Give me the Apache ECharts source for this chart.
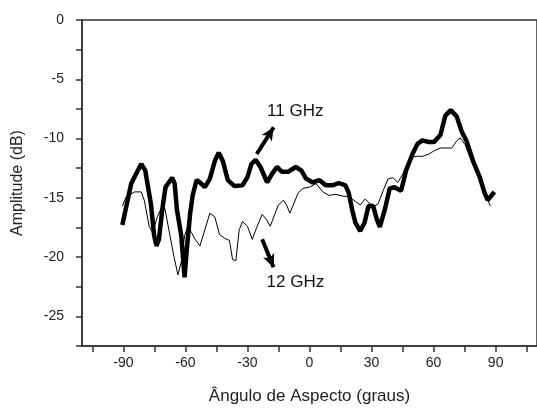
<!DOCTYPE html>
<html>
<head>
<meta charset="utf-8">
<script src="https://cdn.jsdelivr.net/npm/echarts@6/dist/echarts.min.js"></script>
<style>
  html, body { margin: 0; padding: 0; background: #fff; }
  #chart { width: 537px; height: 410px; }
</style>
</head>
<body>
<div id="chart"></div>
<script>
// 11 GHz (thick trace)
const ang11 = [-90.5, -86.2, -81.4, -79.4, -76.7, -75.1, -74, -72.8, -71.2, -69.6, -66.4, -65.2, -64.1, -62, -60.4,
  -59.3, -57.7, -56.5, -54.6, -53, -50.6, -48.2, -45.8, -43.9, -41.9, -39.5, -36.4, -32.4, -30, -28.1, -26.1,
  -23.7, -20.5, -18.2, -15.8, -13.4, -10.3, -6.6, -3.9, -1.6, 1.6, 4.7, 7.9, 11.1, 14.2, 17.4, 19, 20.6, 22.2,
  24.5, 26.6, 28.5, 30.8, 32.5, 34, 36.4, 38.8, 41.1, 44.3, 46.7, 49.8, 52.2, 54.6, 57.8, 60.1, 63.3, 65.7,
  68.3, 71.2, 73.6, 75.9, 79.1, 82.3, 84.7, 86.2, 89.4];
const amp11 = [-17.3, -13.8, -12.15, -12.7, -15.5, -18.2, -19.05, -18.5, -16, -14.1, -13.3, -13.8, -16, -18.2, -21.7,
  -19.3, -16.3, -14.8, -13.5, -13.7, -14.1, -13.4, -11.9, -11.2, -11.9, -13.5, -14, -13.95, -13.25, -12.15, -11.8,
  -12.4, -13.7, -13, -12.4, -12.8, -12.8, -12.4, -12.7, -13.4, -13.7, -13.5, -13.95, -13.95, -13.75, -13.95, -14.6, -16, -17.1,
  -17.8, -17.1, -15.7, -15.7, -16.8, -17.45, -16, -14.2, -14.1, -14.4, -12.7, -11.3, -10.45, -10.15, -10.3, -10.3, -9.7, -8.06,
  -7.6, -8.15, -9.4, -10.2, -11.9, -13.25, -14.6, -15.2, -14.5];

// 12 GHz (thin trace)
const ang12 = [-90.5, -88.6, -84.6, -81.4, -79.9, -77.5, -75.9, -73.6, -72, -69.9, -68, -65.6, -63.6, -62, -60.4,
  -58.8, -57, -55.3, -53, -50.6, -48.2, -45.8, -43.5, -41.1, -38.7, -37.2, -35.6, -34, -32.4, -30, -27.7, -25.3,
  -22.9, -20.9, -19, -16.6, -15, -12.6, -11.1, -9.5, -7.6, -5.5, -3.1, 0, 3.2, 6.4, 9.5, 12.7, 15.9, 19, 22.2,
  24.5, 26.9, 29.3, 31.3, 33.2, 35.6, 38, 40.3, 42.7, 45.1, 47.5, 49.8, 52.2, 54.6, 57.8, 60.1, 63.3, 66.4,
  68.8, 71.2, 72.8, 75.2, 78.3, 81.5, 83.9, 85.4, 87.5];
const amp12 = [-15.7, -14.9, -14.5, -14.5, -15.2, -17.4, -17.95, -16.6, -16, -15.9, -17.7, -19.9, -21.5, -20.4, -18.2,
  -17.4, -17.95, -18.5, -19.05, -17.7, -16.3, -16.6, -18.1, -18.4, -18.6, -20.2, -20.3, -17.7, -17, -17.4, -18.5, -17.4,
  -16.4, -16.8, -17.4, -16.3, -15.6, -15.2, -15.6, -16.3, -15.5, -14.6, -14.2, -14.1, -13.8, -14.5, -14.8, -14.7, -14.85, -14.9, -15.3,
  -15.6, -15.1, -15.5, -15.7, -15.5, -14.4, -13.4, -13.3, -13.7, -13, -12, -11.55, -11.5, -11.5, -11.3, -11.05, -10.8, -10.8,
  -10.8, -10.2, -9.95, -10.5, -11.9, -13.1, -14.2, -14.9, -15.7];

// ticks
const xTicks = [-105, -90, -75, -60, -45, -30, -15, 0, 15, 30, 45, 60, 75, 90, 105];
const xLabels = [-90, -60, -30, 0, 30, 60, 90];
const yTicks = [0, -2.5, -5, -7.5, -10, -12.5, -15, -17.5, -20, -22.5, -25, -27.5];
const yLabels = [0, -5, -10, -15, -20, -25];

// annotations: text [x, y], arrow [from, to]
const label11 = [-6.9, -7.7];
const label12 = [-6.8, -22.15];
const arrow11 = [[-25.5, -11.3], [-17.3, -9.05]];
const arrow12 = [[-22.9, -18.5], [-17.4, -20.85]];

const FONT = 'Liberation Sans, Arial, sans-serif';
const AX = '#333';

const chart = echarts.init(document.getElementById('chart'));
chart.setOption({
  animation: false,
  backgroundColor: '#fff',
  grid: {
    left: 82, top: 20, width: 463, height: 332,
    show: true, borderColor: AX, borderWidth: 1.5, backgroundColor: 'transparent'
  },
  xAxis: {
    type: 'value', min: -110, max: 110,
    name: 'Ângulo de Aspecto (graus)', nameLocation: 'middle', nameGap: 42,
    nameTextStyle: { fontFamily: FONT, fontSize: 17, color: '#222' },
    axisLine: { show: true, onZero: false, lineStyle: { color: AX, width: 1.5 } },
    axisTick: { show: true, customValues: xTicks, length: 6, lineStyle: { color: AX, width: 1.5 } },
    axisLabel: { customValues: xLabels, margin: 10, fontFamily: FONT, fontSize: 14, color: '#222' },
    splitLine: { show: false }
  },
  yAxis: {
    type: 'value', min: -27.5, max: 0,
    name: 'Amplitude (dB)', nameLocation: 'middle', nameGap: 56,
    nameTextStyle: { fontFamily: FONT, fontSize: 16, color: '#222' },
    axisLine: { show: true, onZero: false, lineStyle: { color: AX, width: 1.5 } },
    axisTick: { show: true, customValues: yTicks, length: 6, lineStyle: { color: AX, width: 1.5 } },
    axisLabel: { customValues: yLabels, margin: 18, fontFamily: FONT, fontSize: 14, color: '#222' },
    splitLine: { show: false }
  },
  series: [
    {
      name: '12 GHz', type: 'line', showSymbol: false, z: 2,
      data: ang12.map((a, i) => [a, amp12[i]]),
      lineStyle: { color: '#000', width: 1 },
      markLine: {
        silent: true, symbol: ['none', 'arrow'], symbolSize: [9, 13],
        label: { show: false },
        lineStyle: { color: '#000', width: 4, type: 'solid' },
        data: [[{ coord: arrow12[0] }, { coord: arrow12[1] }]]
      },
      markPoint: {
        silent: true, symbol: 'circle', symbolSize: 0,
        label: { show: true, position: 'inside', formatter: '12 GHz', fontFamily: FONT, fontSize: 17, color: '#111' },
        data: [{ coord: label12 }]
      }
    },
    {
      name: '11 GHz', type: 'line', showSymbol: false, z: 3,
      data: ang11.map((a, i) => [a, amp11[i]]),
      lineStyle: { color: '#000', width: 4.5 },
      markLine: {
        silent: true, symbol: ['none', 'arrow'], symbolSize: [9, 13],
        label: { show: false },
        lineStyle: { color: '#000', width: 4, type: 'solid' },
        data: [[{ coord: arrow11[0] }, { coord: arrow11[1] }]]
      },
      markPoint: {
        silent: true, symbol: 'circle', symbolSize: 0,
        label: { show: true, position: 'inside', formatter: '11 GHz', fontFamily: FONT, fontSize: 17, color: '#111' },
        data: [{ coord: label11 }]
      }
    }
  ]
});
</script>
</body>
</html>
